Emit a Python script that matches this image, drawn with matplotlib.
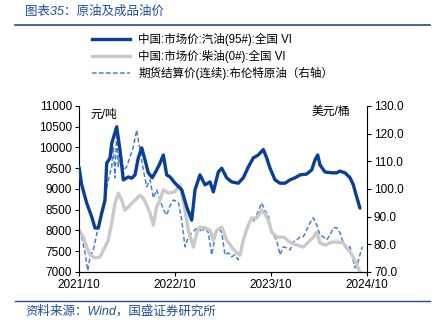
import matplotlib
matplotlib.use('Agg')
import matplotlib.pyplot as plt
from matplotlib.lines import Line2D

plt.rcParams['font.family'] = ['Liberation Sans', 'Noto Sans CJK SC', 'DejaVu Sans']

# months since 2021/10
gas_t = [0, 0.34, 0.96, 1.59, 2.0, 2.41, 2.84, 3.25, 3.46, 3.88, 4.09, 4.71, 5.12, 5.54,
         6.16, 6.59, 7.0, 7.41, 7.84, 8.25, 8.66, 9.16, 9.71, 10.12, 10.54, 10.96, 11.38,
         12.0, 12.84, 13.46, 14.09, 14.5, 15.12, 15.75, 16.38, 16.79, 17.41, 17.84, 18.46,
         19.09, 19.91, 20.54, 21.16, 21.79, 22.41, 23.04, 23.46, 23.88, 24.5, 25.12, 25.75,
         26.38, 27.0, 27.62, 28.46, 29.09, 29.5, 29.84, 30.12, 30.75, 31.59, 32.21, 32.62,
         33.25, 33.88, 34.29, 34.71, 35.12]
gasoline = [9530, 9100, 8660, 8330, 8060, 8060, 8420, 8730, 9620, 9750, 10100, 10500, 9940,
            9220, 9290, 9260, 9340, 9750, 9990, 9700, 9390, 9270, 9460, 9620, 9820, 9340,
            9290, 9140, 8980, 8570, 8250, 8980, 9340, 9100, 9170, 8930, 9410, 9500, 9270,
            9170, 9140, 9270, 9530, 9750, 9820, 9950, 9750, 9500, 9220, 9140, 9140, 9220,
            9270, 9340, 9360, 9460, 9700, 9820, 9580, 9410, 9390, 9390, 9430, 9390, 9270,
            9100, 8810, 8540]

dsl_t = [0, 0.54, 0.96, 1.38, 2.0, 2.62, 3.25, 3.66, 4.09, 4.5, 4.91, 5.34, 5.75, 6.38,
         7.0, 7.62, 8.04, 8.46, 8.88, 9.29, 9.71, 10.12, 10.54, 11.16, 12.0, 12.62, 13.25,
         13.66, 14.29, 14.71, 15.12, 15.75, 16.38, 16.79, 17.21, 17.84, 18.46, 19.09, 19.71,
         20.12, 20.54, 21.16, 21.59, 22.21, 22.84, 23.25, 23.66, 24.09, 24.71, 25.54, 26.38,
         27.21, 28.04, 28.66, 29.29, 29.71, 30.12, 30.75, 31.59, 32.41, 33.04, 33.46, 33.88,
         34.29, 34.71, 35.12]
diesel = [8010, 7840, 7600, 7410, 7340, 7360, 7600, 7770, 8180, 8660, 8900, 8730, 8490,
          8610, 8730, 8850, 8780, 8610, 8420, 8130, 8570, 8730, 8980, 8900, 8930, 9100,
          8490, 8010, 7600, 7940, 8080, 8060, 8010, 7770, 8010, 8080, 7770, 7600, 7460,
          7410, 7770, 8130, 8300, 8300, 8490, 8400, 8250, 7960, 7840, 7840, 7720, 7650,
          7600, 7720, 7840, 7960, 7700, 7650, 7720, 7720, 7700, 7580, 7480, 7360, 7170, 7000]

brent_t = [0, 0.34, 0.75, 1.09, 1.38, 1.79, 2.41, 2.84, 3.25, 3.66, 4.09, 4.29, 4.5, 4.71,
           4.91, 5.12, 5.54, 5.96, 6.38, 6.79, 7.21, 7.62, 8.04, 8.46, 8.88, 9.29, 9.71,
           10.12, 10.54, 10.96, 11.38, 11.79, 12.41, 12.84, 13.25, 13.66, 14.09, 14.5,
           14.91, 15.34, 15.75, 16.16, 16.59, 17.0, 17.41, 17.84, 18.25, 18.66, 19.09, 19.5,
           19.91, 20.34, 20.75, 21.38, 21.79, 22.21, 22.84, 23.25, 23.66, 24.09, 24.71,
           25.12, 25.54, 25.96, 26.38, 26.79, 27.21, 27.62, 28.04, 28.46, 28.88, 29.29,
           29.71, 30.12, 30.54, 30.96, 31.38, 31.79, 32.21, 32.62, 33.04, 33.46, 33.88,
           34.16, 34.5, 34.84, 35.12, 35.41]
brent = [85.2, 82.7, 76.9, 70.5, 75.5, 78.0, 86.3, 92.5, 97.2, 103.3, 108.0, 115.2, 104.0,
         120.3, 108.0, 115.2, 106.9, 108.0, 111.6, 115.2, 121.3, 114.1, 106.9, 100.8, 103.3,
         96.8, 99.7, 96.1, 92.5, 90.6, 94.0, 96.0, 95.3, 88.8, 79.1, 82.7, 84.2, 85.2, 86.3,
         84.5, 86.3, 84.2, 76.2, 82.7, 86.0, 84.2, 76.2, 76.9, 75.5, 76.2, 74.4, 78.0, 84.2,
         88.8, 88.1, 90.6, 95.0, 92.0, 90.6, 84.2, 81.6, 76.2, 79.1, 78.7, 78.0, 80.9, 81.6,
         82.7, 82.7, 85.2, 87.8, 89.6, 87.0, 83.4, 82.7, 81.6, 83.4, 86.0, 86.0, 84.2, 80.5,
         78.7, 79.1, 75.5, 71.5, 73.3, 76.2, 79.1]

tick_pos = [0, 12, 24, 36]
tick_labels = ['2021/10', '2022/10', '2023/10', '2024/10']
labels = ['中国:市场价:汽油(95#):全国 VI', '中国:市场价:柴油(0#):全国 VI',
          '期货结算价(连续):布伦特原油（右轴）']

c_gas = '#0b3f94'
c_dsl = '#c9c9c9'
c_brent = '#4a7fd0'
c_title = '#1f4e9c'

fig = plt.figure(figsize=(4.38, 3.33), dpi=100)
ax = fig.add_axes([0.1804, 0.1832, 0.6575, 0.4985])
ax2 = ax.twinx()

ax.plot(dsl_t, diesel, color=c_dsl, lw=2.4, solid_capstyle='round', zorder=2)
ax.plot(gas_t, gasoline, color=c_gas, lw=2.4, solid_capstyle='round', zorder=3)
ax2.plot(brent_t, brent, color=c_brent, lw=1.1, ls=(0, (3, 1.6)))
ax.set_zorder(ax2.get_zorder() + 1)
ax.patch.set_visible(False)

ax.set_xlim(0, 36)
ax.set_ylim(7000, 11000)
ax.set_yticks(range(7000, 11001, 500))
ax2.set_ylim(70, 130)
ax2.set_yticks(range(70, 131, 10))
ax2.set_yticklabels(['%.1f' % v for v in range(70, 131, 10)])
ax.set_xticks(tick_pos)
ax.set_xticklabels(tick_labels)

for a in (ax, ax2):
    a.spines['top'].set_visible(False)
    a.tick_params(direction='out', length=3, width=0.8, labelsize=8.5, pad=2)
ax.spines['right'].set_visible(False)
ax2.spines['left'].set_visible(False)

ax.text(0.038, 0.946, '元/吨', transform=ax.transAxes, fontsize=8.5, va='center', ha='left')
ax.text(0.941, 0.962, '美元/桶', transform=ax.transAxes, fontsize=8.5, va='center', ha='right')

handles = [Line2D([], [], color=c_gas, lw=2.4),
           Line2D([], [], color=c_dsl, lw=2.4),
           Line2D([], [], color=c_brent, lw=1.1, ls=(0, (3, 1.6)))]
fig.legend(handles, labels, loc='upper left', bbox_to_anchor=(0.21, 0.9),
           frameon=False, fontsize=8.3, handlelength=3.3, handletextpad=0.7,
           labelspacing=0.3, borderpad=0, borderaxespad=0)

# title and source
fig.text(0.057, 0.965, '图表35：原油及成品油价', fontsize=9, color=c_title, style='italic',
         va='center', ha='left')
fig.add_artist(Line2D([0.035, 0.982], [0.925, 0.925], color=c_title, lw=1.2))
fig.add_artist(Line2D([0.035, 0.982], [0.097, 0.097], color=c_title, lw=1.0))
fig.text(0.057, 0.066, '资料来源：Wind，国盛证券研究所', fontsize=9, color=c_title,
         style='italic', va='center', ha='left')

fig.savefig('out.png', dpi=100)
